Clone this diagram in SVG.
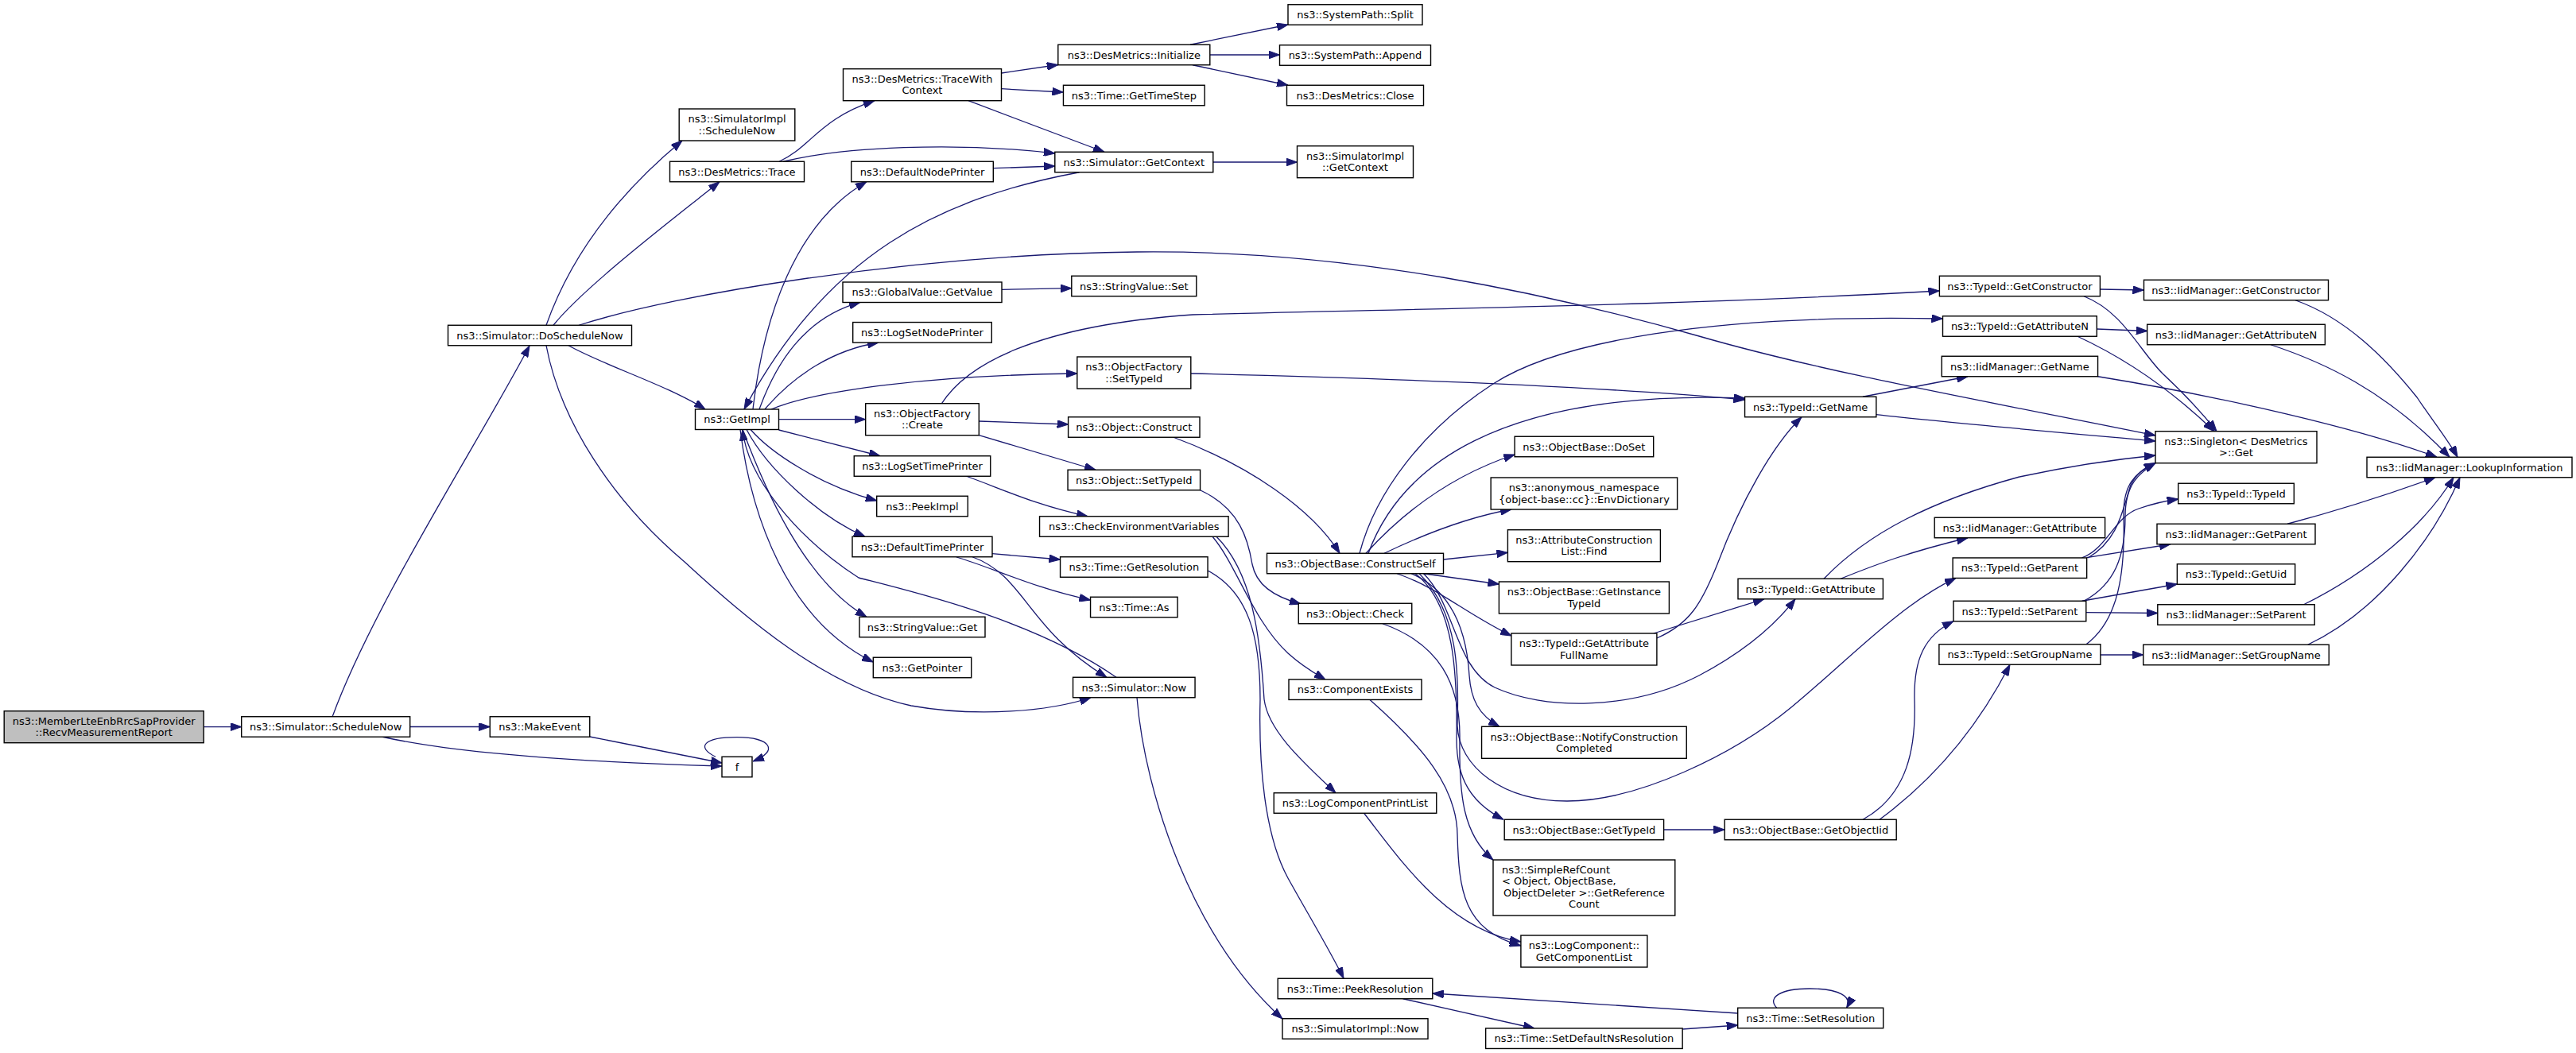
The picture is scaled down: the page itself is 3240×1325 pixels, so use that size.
<svg xmlns="http://www.w3.org/2000/svg" width="3240" height="1325" viewBox="0 0 3240 1325">
<defs>
<style>
.node rect{fill:#ffffff;stroke:#000000;stroke-width:1.4}
.node text{font-family:"DejaVu Sans","Liberation Sans",sans-serif;font-size:13px;fill:#000000;text-anchor:middle}
.node text.l{text-anchor:start}
#n_member rect{fill:#bfbfbf}
.edges path{fill:none;stroke:#191970;stroke-width:1.3;marker-end:url(#arr)}
</style>
<marker id="arr" markerWidth="14" markerHeight="10" refX="14" refY="5" orient="auto" markerUnits="userSpaceOnUse"><path d="M0,0 L14,5 L0,10 z" fill="#191970" stroke="#191970" stroke-width="1"/></marker>
</defs>
<rect x="0" y="0" width="3240" height="1325" fill="#ffffff"/>
<g class="edges">
<path d="M256.2,914.6 L303.7,914.6"/>
<path d="M418,902 C470,760 600,560 666,435"/>
<path d="M515.7,914.5 L616.25,914.5"/>
<path d="M480,927 C560,945 700,958 908,964"/>
<path d="M741.75,927 L908,960"/>
<path d="M900,952.25 C875,940 885,927.7 927,927.7 C970,927.7 980,945 947,958"/>
<path d="M687,409.25 C715,330 770,250 858,177"/>
<path d="M696,409.25 C735,360 860,265 905,228.75"/>
<path d="M728,409.25 C850,370 1150,320 1430,317 C1700,314 1950,370 2137,423 C2300,470 2500,505 2711,548"/>
<path d="M715,434.75 C760,460 840,485 887,515"/>
<path d="M687,434.75 C705,530 770,630 861,707 C940,780 1040,865 1146,888 C1230,903 1320,895 1372,877.75"/>
<path d="M980,203.25 C1020,185 1030,150 1100,126.7"/>
<path d="M985,203.25 C1060,185 1200,178 1326.8,193"/>
<path d="M1259.5,92 L1330.8,81.5"/>
<path d="M1259.5,111.7 L1337.45,116"/>
<path d="M1218,126.7 L1389,191.25"/>
<path d="M1249.3,211.7 L1326.8,209"/>
<path d="M1525.8,204 L1631.5,204"/>
<path d="M1357.6,216.75 C1180,250 1040,320 936,515"/>
<path d="M947,515 C960,400 1000,280 1090,228.75"/>
<path d="M955,515 C975,460 1010,400 1082,380.4"/>
<path d="M962,515 C1000,470 1050,440 1105,431"/>
<path d="M970,515 C1030,490 1180,472 1354.8,470"/>
<path d="M979.5,527.7 L1088.7,527.7"/>
<path d="M979.5,541 L1107,573.75"/>
<path d="M944,540.5 C970,570 1030,610 1102.7,630"/>
<path d="M939,540.5 C965,590 1030,650 1088,675.25"/>
<path d="M934,540.5 C960,610 1010,730 1090,776.25"/>
<path d="M931,540.5 C945,650 990,780 1098.3,833"/>
<path d="M1404,852.25 C1300,780 1150,745 1080,727 C1000,675 940,600 934,540.5"/>
<path d="M1231.3,530 L1343.6,534"/>
<path d="M1231.3,547.7 L1378,591.25"/>
<path d="M1184.5,507.7 C1215,460 1300,410 1500,396 C1800,388 2100,385 2439.4,366"/>
<path d="M1260,364.3 L1347.8,362.7"/>
<path d="M1215.5,599.25 C1260,615 1300,635 1368,649.75"/>
<path d="M1248,696.7 L1333.5,704"/>
<path d="M1202.6,700.75 C1250,715 1300,740 1371.5,755"/>
<path d="M1223,700.75 C1290,725 1290,790 1392,852.25"/>
<path d="M1497,56.25 L1620,31"/>
<path d="M1521.8,69 L1609.5,69"/>
<path d="M1500,81.75 L1620,107.25"/>
<path d="M1476,550.25 C1570,585 1650,640 1685,696.25"/>
<path d="M1509.5,616.75 C1560,640 1570,680 1575,710 C1580,735 1600,750 1636,760"/>
<path d="M1525,675.25 C1555,710 1575,780 1620,822 C1640,840 1655,848 1667,855"/>
<path d="M1530,675.25 C1575,720 1585,800 1590,880 C1595,920 1640,960 1680,997.75"/>
<path d="M1519,718 C1570,745 1585,800 1585,880 C1583,960 1590,1050 1620,1105 C1645,1150 1675,1200 1690,1231.25"/>
<path d="M1430,877.75 C1440,1000 1500,1180 1613,1282"/>
<path d="M1718,696.25 C1760,650 1820,600 1905.1,572"/>
<path d="M1741,696.25 C1800,668 1850,650 1901,641"/>
<path d="M1815.5,704 L1896.4,695.3"/>
<path d="M1790.5,721.75 L1885.4,735"/>
<path d="M1757,721.75 C1810,740 1840,770 1901,800"/>
<path d="M1721,696.25 C1760,590 1880,490 2194.55,501"/>
<path d="M1497.8,470 C1700,475 2000,485 2194.55,503"/>
<path d="M1710,696.25 C1730,620 1790,540 1878,483 C1960,430 2150,395 2443.5,401"/>
<path d="M1775,721.75 C1830,745 1845,800 1848,850 C1850,880 1860,900 1886,914.3"/>
<path d="M1780,721.75 C1830,760 1833,850 1832,930 C1832,980 1850,1010 1891,1031.25"/>
<path d="M1785,721.75 C1835,770 1835,850 1833,913 C1835,965 1890,1008 1971,1008 C2060,1008 2180,950 2253,890 C2320,835 2390,760 2460,727.45"/>
<path d="M1790.5,721.75 C1830,760 1830,840 1880,865 C1940,893 2050,895 2137,850 C2190,822 2230,790 2258,753.75"/>
<path d="M1738.8,784.75 C1810,810 1837,860 1836,930 C1835,1000 1840,1050 1878,1082"/>
<path d="M1723,880.45 C1790,940 1832,990 1833,1050 C1835,1120 1840,1170 1912.9,1190"/>
<path d="M1715.6,1023.25 C1760,1080 1820,1170 1912.9,1185"/>
<path d="M2092.6,1044 L2169.2,1044"/>
<path d="M1764.6,1256.75 L1930,1294"/>
<path d="M2116,1295 L2185.7,1290"/>
<path d="M2185.7,1275 L1801.8,1250"/>
<path d="M2234.7,1268.25 C2222,1255 2240,1244 2276,1244 C2315,1244 2330,1255 2322.6,1268.25"/>
<path d="M2079.8,797 L2219,753.75"/>
<path d="M2083.9,803 C2125,785 2140,760 2160,710 C2190,630 2230,560 2266,524.75"/>
<path d="M2315,728.25 C2360,710 2400,695 2475,676.75"/>
<path d="M2294,728.25 C2350,670 2430,630 2540,600 C2610,585 2660,578 2711,573"/>
<path d="M2343,499.25 L2475,473.75"/>
<path d="M2359.85,521.7 C2450,532 2600,545 2711,555"/>
<path d="M2641.4,364 L2696.5,365"/>
<path d="M2621,372.75 C2670,392 2690,440 2720,470 C2750,498 2770,520 2788,542.7"/>
<path d="M2637.3,414 L2700.65,416.5"/>
<path d="M2613,423.25 C2660,445 2720,480 2785,542.7"/>
<path d="M2887,377.75 C2950,400 3000,450 3040,500 C3060,530 3080,555 3091,575.25"/>
<path d="M2856,433.75 C2920,455 3000,490 3081,575.25"/>
<path d="M2638.55,473.75 C2800,500 2970,540 3065,575.25"/>
<path d="M2877,659.25 C2950,640 3010,620 3063,600.75"/>
<path d="M2897.5,760.75 C2980,720 3050,660 3086,600.75"/>
<path d="M2902.7,811.25 C2990,770 3060,680 3094,600.75"/>
<path d="M2626,701.95 C2665,680 2670,640 2680,610 C2688,595 2695,590 2711,582.7"/>
<path d="M2618.6,701.95 C2650,690 2660,650 2690,640 C2710,633 2725,630 2739.7,628"/>
<path d="M2624.65,701.7 L2730,684.75"/>
<path d="M2618.6,756.25 L2738.35,735"/>
<path d="M2623.8,770.7 L2713.8,771.5"/>
<path d="M2621,756.25 C2660,735 2673,700 2673,650 C2673,610 2690,595 2711,582.7"/>
<path d="M2641.9,824 L2695.75,824"/>
<path d="M2624,810.75 C2665,780 2673,720 2671,650 C2670,610 2685,595 2711,582.7"/>
<path d="M2343,1031.25 C2400,1000 2410,940 2408,880 C2407,830 2420,800 2457,781.75"/>
<path d="M2364,1031.25 C2420,990 2480,930 2528,836.25"/>
</g>
<g id="n_member" class="node"><rect x="5.2" y="894.7" width="251" height="40"/><text x="130.7" y="911.9">ns3::MemberLteEnbRrcSapProvider</text><text x="130.7" y="926.3">::RecvMeasurementReport</text></g>
<g id="n_schednow" class="node"><rect x="303.7" y="901.75" width="212" height="25.5"/><text x="409.7" y="919.1">ns3::Simulator::ScheduleNow</text></g>
<g id="n_doschednow" class="node"><rect x="563.5" y="409.25" width="231" height="25.5"/><text x="679" y="426.6">ns3::Simulator::DoScheduleNow</text></g>
<g id="n_makeevent" class="node"><rect x="616.25" y="901.75" width="125.5" height="25.5"/><text x="679" y="919.1">ns3::MakeEvent</text></g>
<g id="n_simimplsched" class="node"><rect x="854.2" y="137" width="145.6" height="40"/><text x="927" y="154.2">ns3::SimulatorImpl</text><text x="927" y="168.6">::ScheduleNow</text></g>
<g id="n_trace" class="node"><rect x="842.5" y="203.25" width="169" height="25.5"/><text x="927" y="220.6">ns3::DesMetrics::Trace</text></g>
<g id="n_getimpl" class="node"><rect x="874.5" y="515" width="105" height="25.5"/><text x="927" y="532.4">ns3::GetImpl</text></g>
<g id="n_f" class="node"><rect x="908" y="952.25" width="38" height="25.5"/><text x="927" y="969.6">f</text></g>
<g id="n_twc" class="node"><rect x="1060.5" y="86.7" width="199" height="40"/><text x="1160" y="103.9">ns3::DesMetrics::TraceWith</text><text x="1160" y="118.3">Context</text></g>
<g id="n_defnode" class="node"><rect x="1070.7" y="203.25" width="178.6" height="25.5"/><text x="1160" y="220.6">ns3::DefaultNodePrinter</text></g>
<g id="n_gvget" class="node"><rect x="1060" y="355" width="200" height="25.5"/><text x="1160" y="372.3">ns3::GlobalValue::GetValue</text></g>
<g id="n_lognode" class="node"><rect x="1072.7" y="405.55" width="174.6" height="25.5"/><text x="1160" y="422.9">ns3::LogSetNodePrinter</text></g>
<g id="n_ofcreate" class="node"><rect x="1088.7" y="507.7" width="142.6" height="40"/><text x="1160" y="524.9">ns3::ObjectFactory</text><text x="1160" y="539.3">::Create</text></g>
<g id="n_logtime" class="node"><rect x="1074.25" y="573.75" width="171.5" height="25.5"/><text x="1160" y="591.1">ns3::LogSetTimePrinter</text></g>
<g id="n_peek" class="node"><rect x="1102.7" y="624.25" width="114.6" height="25.5"/><text x="1160" y="641.6">ns3::PeekImpl</text></g>
<g id="n_deftime" class="node"><rect x="1072" y="675.25" width="176" height="25.5"/><text x="1160" y="692.6">ns3::DefaultTimePrinter</text></g>
<g id="n_svget" class="node"><rect x="1081" y="776.25" width="158" height="25.5"/><text x="1160" y="793.6">ns3::StringValue::Get</text></g>
<g id="n_getptr" class="node"><rect x="1098.3" y="827.25" width="123.4" height="25.5"/><text x="1160" y="844.6">ns3::GetPointer</text></g>
<g id="n_init" class="node"><rect x="1330.8" y="56.25" width="191" height="25.5"/><text x="1426.3" y="73.6">ns3::DesMetrics::Initialize</text></g>
<g id="n_timestep" class="node"><rect x="1337.45" y="107.25" width="177.7" height="25.5"/><text x="1426.3" y="124.6">ns3::Time::GetTimeStep</text></g>
<g id="n_getctx" class="node"><rect x="1326.8" y="191.25" width="199" height="25.5"/><text x="1426.3" y="208.6">ns3::Simulator::GetContext</text></g>
<g id="n_svset" class="node"><rect x="1347.8" y="347.25" width="157" height="25.5"/><text x="1426.3" y="364.6">ns3::StringValue::Set</text></g>
<g id="n_ofsettid" class="node"><rect x="1354.8" y="449" width="143" height="40"/><text x="1426.3" y="466.2">ns3::ObjectFactory</text><text x="1426.3" y="480.6">::SetTypeId</text></g>
<g id="n_construct" class="node"><rect x="1343.6" y="524.75" width="165.4" height="25.5"/><text x="1426.3" y="542.1">ns3::Object::Construct</text></g>
<g id="n_osettid" class="node"><rect x="1343.05" y="591.25" width="166.5" height="25.5"/><text x="1426.3" y="608.6">ns3::Object::SetTypeId</text></g>
<g id="n_checkenv" class="node"><rect x="1307.55" y="649.75" width="237.5" height="25.5"/><text x="1426.3" y="667.1">ns3::CheckEnvironmentVariables</text></g>
<g id="n_getres" class="node"><rect x="1333.55" y="700.75" width="185.5" height="25.5"/><text x="1426.3" y="718.1">ns3::Time::GetResolution</text></g>
<g id="n_as" class="node"><rect x="1371.55" y="751.25" width="109.5" height="25.5"/><text x="1426.3" y="768.6">ns3::Time::As</text></g>
<g id="n_now" class="node"><rect x="1349.55" y="852.25" width="153.5" height="25.5"/><text x="1426.3" y="869.6">ns3::Simulator::Now</text></g>
<g id="n_split" class="node"><rect x="1620" y="5.75" width="169" height="25.5"/><text x="1704.5" y="23.1">ns3::SystemPath::Split</text></g>
<g id="n_append" class="node"><rect x="1609.5" y="56.75" width="190" height="25.5"/><text x="1704.5" y="74.1">ns3::SystemPath::Append</text></g>
<g id="n_close" class="node"><rect x="1618.5" y="107.25" width="172" height="25.5"/><text x="1704.5" y="124.6">ns3::DesMetrics::Close</text></g>
<g id="n_implctx" class="node"><rect x="1631.5" y="183.7" width="146" height="40"/><text x="1704.5" y="200.9">ns3::SimulatorImpl</text><text x="1704.5" y="215.3">::GetContext</text></g>
<g id="n_cself" class="node"><rect x="1593.5" y="696.25" width="222" height="25.5"/><text x="1704.5" y="713.6">ns3::ObjectBase::ConstructSelf</text></g>
<g id="n_check" class="node"><rect x="1633.25" y="759.25" width="142.5" height="25.5"/><text x="1704.5" y="776.6">ns3::Object::Check</text></g>
<g id="n_compexists" class="node"><rect x="1621" y="854.95" width="167" height="25.5"/><text x="1704.5" y="872.3">ns3::ComponentExists</text></g>
<g id="n_lcpl" class="node"><rect x="1602.25" y="997.75" width="204.5" height="25.5"/><text x="1704.5" y="1015.1">ns3::LogComponentPrintList</text></g>
<g id="n_peekres" class="node"><rect x="1607.2" y="1231.25" width="194.6" height="25.5"/><text x="1704.5" y="1248.6">ns3::Time::PeekResolution</text></g>
<g id="n_implnow" class="node"><rect x="1613" y="1281.75" width="183" height="25.5"/><text x="1704.5" y="1299.1">ns3::SimulatorImpl::Now</text></g>
<g id="n_doset" class="node"><rect x="1905.1" y="549.25" width="174.6" height="25.5"/><text x="1992.4" y="566.6">ns3::ObjectBase::DoSet</text></g>
<g id="n_envdict" class="node"><rect x="1875.15" y="601" width="234.5" height="40"/><text x="1992.4" y="618.2">ns3::anonymous_namespace</text><text x="1992.4" y="632.6">{object-base::cc}::EnvDictionary</text></g>
<g id="n_acfind" class="node"><rect x="1896.4" y="666.7" width="192" height="40"/><text x="1992.4" y="683.9">ns3::AttributeConstruction</text><text x="1992.4" y="698.3">List::Find</text></g>
<g id="n_getinst" class="node"><rect x="1885.4" y="732" width="214" height="40"/><text x="1992.4" y="749.2">ns3::ObjectBase::GetInstance</text><text x="1992.4" y="763.6">TypeId</text></g>
<g id="n_getattrfull" class="node"><rect x="1900.9" y="797" width="183" height="40"/><text x="1992.4" y="814.2">ns3::TypeId::GetAttribute</text><text x="1992.4" y="828.6">FullName</text></g>
<g id="n_notify" class="node"><rect x="1863.55" y="914.3" width="257.7" height="40"/><text x="1992.4" y="931.5">ns3::ObjectBase::NotifyConstruction</text><text x="1992.4" y="945.9">Completed</text></g>
<g id="n_obgettid" class="node"><rect x="1892.2" y="1031.25" width="200.4" height="25.5"/><text x="1992.4" y="1048.6">ns3::ObjectBase::GetTypeId</text></g>
<g id="n_simpleref" class="node"><rect x="1878" y="1082" width="228.8" height="70"/><text class="l" x="1889" y="1098.8">ns3::SimpleRefCount</text><text class="l" x="1889" y="1113.3">&lt; Object, ObjectBase,</text><text x="1992.4" y="1127.8">ObjectDeleter &gt;::GetReference</text><text x="1992.4" y="1142.3">Count</text></g>
<g id="n_getcomplist" class="node"><rect x="1912.9" y="1177" width="159" height="40"/><text x="1992.4" y="1194.2">ns3::LogComponent::</text><text x="1992.4" y="1208.6">GetComponentList</text></g>
<g id="n_setdefns" class="node"><rect x="1868.65" y="1293.95" width="247.5" height="25.5"/><text x="1992.4" y="1311.3">ns3::Time::SetDefaultNsResolution</text></g>
<g id="n_tidgetname" class="node"><rect x="2194.55" y="499.25" width="165.3" height="25.5"/><text x="2277.2" y="516.6">ns3::TypeId::GetName</text></g>
<g id="n_tidgetattr" class="node"><rect x="2186" y="728.25" width="182.4" height="25.5"/><text x="2277.2" y="745.6">ns3::TypeId::GetAttribute</text></g>
<g id="n_getobjiid" class="node"><rect x="2169.2" y="1031.25" width="216" height="25.5"/><text x="2277.2" y="1048.6">ns3::ObjectBase::GetObjectIid</text></g>
<g id="n_setres" class="node"><rect x="2185.7" y="1268.25" width="183" height="25.5"/><text x="2277.2" y="1285.6">ns3::Time::SetResolution</text></g>
<g id="n_tidgetctor" class="node"><rect x="2439.4" y="347.25" width="202" height="25.5"/><text x="2540.4" y="364.6">ns3::TypeId::GetConstructor</text></g>
<g id="n_tidgetattrn" class="node"><rect x="2443.5" y="397.75" width="193.8" height="25.5"/><text x="2540.4" y="415.1">ns3::TypeId::GetAttributeN</text></g>
<g id="n_iidgetname" class="node"><rect x="2442.25" y="448.25" width="196.3" height="25.5"/><text x="2540.4" y="465.6">ns3::IidManager::GetName</text></g>
<g id="n_iidgetattr" class="node"><rect x="2433.2" y="651.25" width="214.4" height="25.5"/><text x="2540.4" y="668.6">ns3::IidManager::GetAttribute</text></g>
<g id="n_tidgetparent" class="node"><rect x="2456.15" y="701.95" width="168.5" height="25.5"/><text x="2540.4" y="719.3">ns3::TypeId::GetParent</text></g>
<g id="n_tidsetparent" class="node"><rect x="2457" y="756.25" width="166.8" height="25.5"/><text x="2540.4" y="773.6">ns3::TypeId::SetParent</text></g>
<g id="n_tidsetgroup" class="node"><rect x="2438.9" y="810.75" width="203" height="25.5"/><text x="2540.4" y="828.1">ns3::TypeId::SetGroupName</text></g>
<g id="n_iidgetctor" class="node"><rect x="2696.5" y="352.25" width="232" height="25.5"/><text x="2812.5" y="369.6">ns3::IidManager::GetConstructor</text></g>
<g id="n_iidgetattrn" class="node"><rect x="2700.65" y="408.25" width="223.7" height="25.5"/><text x="2812.5" y="425.6">ns3::IidManager::GetAttributeN</text></g>
<g id="n_singleton" class="node"><rect x="2711" y="542.7" width="203" height="40"/><text x="2812.5" y="559.9">ns3::Singleton&lt; DesMetrics</text><text x="2812.5" y="574.3">&gt;::Get</text></g>
<g id="n_tidtid" class="node"><rect x="2739.7" y="608.25" width="145.6" height="25.5"/><text x="2812.5" y="625.6">ns3::TypeId::TypeId</text></g>
<g id="n_iidgetparent" class="node"><rect x="2713" y="659.25" width="199" height="25.5"/><text x="2812.5" y="676.6">ns3::IidManager::GetParent</text></g>
<g id="n_getuid" class="node"><rect x="2738.35" y="709.75" width="148.3" height="25.5"/><text x="2812.5" y="727.1">ns3::TypeId::GetUid</text></g>
<g id="n_iidsetparent" class="node"><rect x="2713.8" y="760.75" width="197.4" height="25.5"/><text x="2812.5" y="778.1">ns3::IidManager::SetParent</text></g>
<g id="n_iidsetgroup" class="node"><rect x="2695.75" y="811.25" width="233.5" height="25.5"/><text x="2812.5" y="828.6">ns3::IidManager::SetGroupName</text></g>
<g id="n_lookup" class="node"><rect x="2977" y="575.25" width="258" height="25.5"/><text x="3106" y="592.6">ns3::IidManager::LookupInformation</text></g>
</svg>
